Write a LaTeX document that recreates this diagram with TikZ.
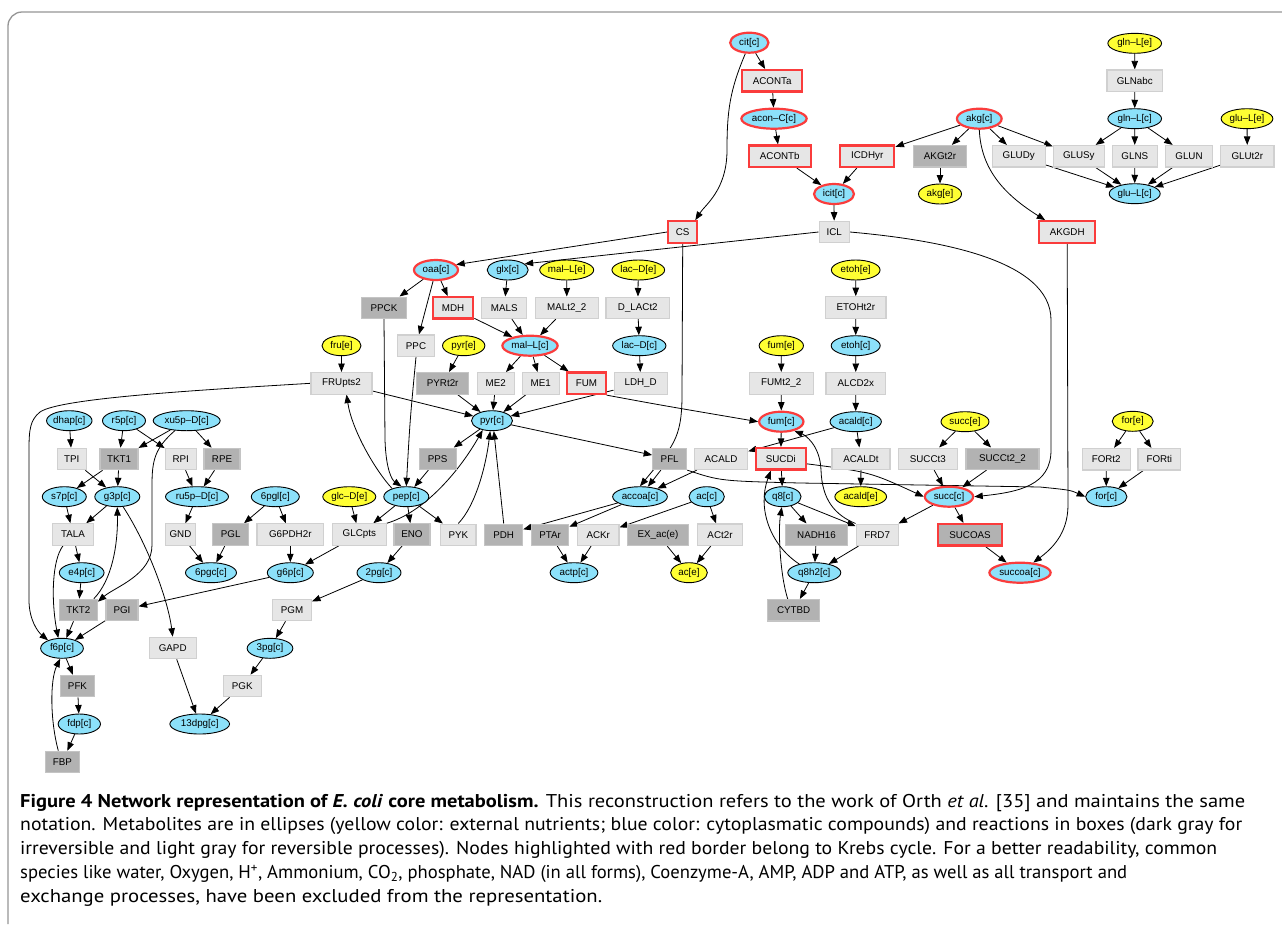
\documentclass[tikz,border=0pt]{standalone}
\usepackage{fontspec}
\usepackage{graphicx}
\setmainfont{Liberation Sans}
\newfontfamily\capfont{PT Sans}
\usetikzlibrary{shapes.geometric,arrows.meta}
\pgfdeclarelayer{bg}
\pgfdeclarelayer{edges}
\pgfsetlayers{bg,edges,main}
\definecolor{metblue}{RGB}{140,225,250}
\definecolor{extyellow}{RGB}{255,255,51}
\definecolor{krebsred}{RGB}{250,60,60}
\definecolor{lfill}{RGB}{230,230,230}
\definecolor{lbord}{RGB}{208,208,208}
\definecolor{dfill}{RGB}{178,178,178}
\definecolor{dbord}{RGB}{196,196,196}
\definecolor{framegray}{RGB}{150,150,150}
\newsavebox\capbox
\newcommand\fitline[2]{\sbox\capbox{#2}\resizebox{#1}{\ht\capbox}{\usebox\capbox}}
\tikzset{
 nodefont/.style={font=\fontsize{9.8}{11}\selectfont},
 met/.style={ellipse, draw=black, line width=0.9pt, fill=metblue, minimum height=20pt, inner sep=0pt, nodefont},
 ext/.style={met, fill=extyellow},
 lrx/.style={rectangle, draw=lbord, line width=1.1pt, fill=lfill, minimum height=21.5pt, inner sep=0pt, nodefont},
 drx/.style={lrx, draw=dbord, fill=dfill},
 kr/.style={draw=krebsred, line width=2.2pt},
 mw/.style={minimum width=#1pt},
 arr/.style={-{Triangle[length=8.5pt,width=6.5pt]}, line width=0.8pt},
 capline/.style={anchor=base west, inner sep=0pt, font=\capfont\fontsize{18.5}{22}\selectfont},
}
\begin{document}
\begin{tikzpicture}[x=1pt,y=-1pt]
\useasboundingbox (0,0) rectangle (1282,924);
\begin{pgfonlayer}{bg}
\fill[white] (0,0) rectangle (1282,924);
\end{pgfonlayer}
\draw[framegray, line width=1.3pt, rounded corners=14pt] (8,924) -- (8,12) -- (1282,12);
% ---------- metabolites ----------
\node[met,kr,mw=38.3] (citc) at (749.3,42.7) {cit[c]};
\node[met,kr,mw=65.3] (aconCc) at (774,118.7) {acon–C[c]};
\node[met,kr,mw=44.7] (akgc) at (979.3,118.7) {akg[c]};
\node[met,kr,mw=40] (icitc) at (834,194) {icit[c]};
\node[ext,mw=43] (akge) at (940,194) {akg[e]};
\node[ext,mw=53.7] (glnLe) at (1134.7,43.3) {gln–L[e]};
\node[met,mw=53.7] (glnLc) at (1134.7,118.7) {gln–L[c]};
\node[ext,mw=51.7] (gluLe) at (1247,118.7) {glu–L[e]};
\node[met,mw=51] (gluLc) at (1134.7,193.7) {glu–L[c]};
\node[met,kr,mw=44] (oaac) at (436,270) {oaa[c]};
\node[met,mw=41] (glxc) at (507.7,270) {glx[c]};
\node[ext,mw=54] (malLe) at (566.7,270) {mal–L[e]};
\node[ext,mw=52.7] (lacDe) at (638.3,270) {lac–D[e]};
\node[ext,mw=48.7] (etohe) at (855.7,270) {etoh[e]};
\node[ext,mw=39] (frue) at (341.5,345.7) {fru[e]};
\node[ext,mw=42.3] (pyre) at (463.7,345.7) {pyr[e]};
\node[met,kr,mw=55.3] (malLc) at (530,345.7) {mal–L[c]};
\node[met,mw=53.3] (lacDc) at (639.3,345.7) {lac–D[c]};
\node[ext,mw=44.3] (fume) at (781.3,345.7) {fum[e]};
\node[met,mw=49] (etohc) at (855.7,345.7) {etoh[c]};
\node[met,mw=42] (dhapc) at (69.3,420.7) {dhap[c]};
\node[met,mw=43] (r5pc) at (124,420.7) {r5p[c]};
\node[met,mw=67] (xu5pDc) at (186.7,420.7) {xu5p–D[c]};
\node[met,mw=41] (pyrc) at (492,420.7) {pyr[c]};
\node[met,kr,mw=44.3] (fumc) at (781.3,421.7) {fum[c]};
\node[met,mw=51.3] (acaldc) at (855.7,421.7) {acald[c]};
\node[ext,mw=48] (succe) at (965,421.7) {succ[e]};
\node[ext,mw=41] (fore) at (1132.7,421.3) {for[e]};
\node[met,mw=44] (s7pc) at (64.3,496.7) {s7p[c]};
\node[met,mw=45] (g3pc) at (117.3,496.7) {g3p[c]};
\node[met,mw=63] (ru5pDc) at (197,496.7) {ru5p–D[c]};
\node[met,mw=48] (pglc) at (275.3,496.7) {6pgl[c]};
\node[ext,mw=53] (glcDe) at (349.3,496.7) {glc–D[e]};
\node[met,mw=45] (pepc) at (406.3,496.7) {pep[c]};
\node[met,mw=54.7] (accoac) at (640,496.7) {accoa[c]};
\node[met,mw=35.3] (acc) at (706.7,496.7) {ac[c]};
\node[met,mw=36.7] (q8c) at (782.7,496.7) {q8[c]};
\node[ext,mw=51.7] (acalde) at (860.7,496.7) {acald[e]};
\node[met,kr,mw=48.3] (succc) at (949,496.7) {succ[c]};
\node[met,mw=41.3] (forc) at (1106.3,496.7) {for[c]};
\node[met,mw=44.7] (e4pc) at (81.7,572.7) {e4p[c]};
\node[met,mw=51] (pgcc) at (211,572.7) {6pgc[c]};
\node[met,mw=46] (g6pc) at (290.3,572.7) {g6p[c]};
\node[met,mw=44] (pgtwoc) at (379,572.7) {2pg[c]};
\node[met,mw=47.7] (actpc) at (574,572.7) {actp[c]};
\node[ext,mw=36.7] (ace) at (689,572.7) {ac[e]};
\node[met,mw=53] (qhc) at (814.3,572.7) {q8h2[c]};
\node[met,kr,mw=61.3] (succoac) at (1020,572.7) {succoa[c]};
\node[met,mw=42.7] (f6pc) at (62,648.3) {f6p[c]};
\node[met,mw=45.7] (pgthreec) at (270,648.3) {3pg[c]};
\node[met,mw=42.3] (fdpc) at (79.3,724) {fdp[c]};
\node[met,mw=59.7] (dpgc) at (199.7,724) {13dpg[c]};
% ---------- reactions ----------
\node[lrx,kr,mw=59.7] (ACONTa) at (772.2,80.8) {ACONTa};
\node[lrx,mw=55.7] (GLNabc) at (1134.8,80.7) {GLNabc};
\node[lrx,kr,mw=61.7] (ACONTb) at (779.8,156.2) {ACONTb};
\node[lrx,kr,mw=54.3] (ICDHyr) at (867.2,156.2) {ICDHyr};
\node[drx,mw=53.4] (AKGtr) at (940,156.2) {AKGt2r};
\node[lrx,mw=52.7] (GLUDy) at (1018.7,156.2) {GLUDy};
\node[lrx,mw=51] (GLUSy) at (1078.8,156.2) {GLUSy};
\node[lrx,mw=45] (GLNS) at (1134.8,156.2) {GLNS};
\node[lrx,mw=46.6] (GLUN) at (1189,156.2) {GLUN};
\node[lrx,mw=53.3] (GLUtr) at (1247.3,156.2) {GLUt2r};
\node[lrx,kr,mw=29] (CS) at (682.7,232) {CS};
\node[lrx,mw=30.3] (ICL) at (834.2,232) {ICL};
\node[lrx,kr,mw=55.7] (AKGDH) at (1067.2,232) {AKGDH};
\node[drx,mw=45.4] (PPCK) at (384,307.8) {PPCK};
\node[lrx,kr,mw=40.6] (MDH) at (453,307.8) {MDH};
\node[lrx,mw=45] (MALS) at (504.2,307.8) {MALS};
\node[lrx,mw=63] (MALt) at (566.8,307.8) {MALt2\_2};
\node[lrx,mw=63.7] (DLACt) at (637.8,307.8) {D\_LACt2};
\node[lrx,mw=60.3] (ETOHt) at (855.8,307.5) {ETOHt2r};
\node[lrx,mw=37.4] (PPC) at (416,345.7) {PPC};
\node[lrx,mw=61] (FRUpts) at (341.5,383.3) {FRUpts2};
\node[drx,mw=52] (PYRt) at (442.7,383.3) {PYRt2r};
\node[lrx,mw=36.7] (MEtwo) at (495.7,383.3) {ME2};
\node[lrx,mw=37] (MEone) at (540.8,383.3) {ME1};
\node[lrx,kr,mw=38.3] (FUM) at (586.5,383.3) {FUM};
\node[lrx,mw=53.3] (LDHD) at (640.7,383.3) {LDH\_D};
\node[lrx,mw=63.7] (FUMt) at (781.2,383.3) {FUMt2\_2};
\node[lrx,mw=59.7] (ALCD) at (855.8,383.3) {ALCD2x};
\node[lrx,mw=29] (TPI) at (71.7,459) {TPI};
\node[drx,mw=38] (TKTone) at (119,459) {TKT1};
\node[lrx,mw=31] (RPI) at (180.7,459) {RPI};
\node[drx,mw=36] (RPE) at (222,459) {RPE};
\node[drx,mw=36.7] (PPS) at (437.7,458.8) {PPS};
\node[drx,mw=34] (PFL) at (669.7,458.8) {PFL};
\node[lrx,mw=53.4] (ACALD) at (721,458.8) {ACALD};
\node[lrx,kr,mw=49.7] (SUCDi) at (780.8,458.8) {SUCDi};
\node[lrx,mw=58] (ACALDt) at (861,458.8) {ACALDt};
\node[lrx,mw=59] (SUCCtthree) at (927.8,458.8) {SUCCt3};
\node[drx,mw=73] (SUCCttwo) at (1002.5,458.8) {SUCCt2\_2};
\node[lrx,mw=47.7] (FORttwo) at (1106.2,459.2) {FORt2};
\node[lrx,mw=42.7] (FORti) at (1159.3,459.2) {FORti};
\node[lrx,mw=40.7] (TALA) at (73,534.5) {TALA};
\node[lrx,mw=30] (GND) at (180.5,534.5) {GND};
\node[drx,mw=36] (PGL) at (230.7,534.5) {PGL};
\node[lrx,mw=66.7] (GPDH) at (290.3,534.5) {G6PDH2r};
\node[lrx,mw=54] (GLCpts) at (359.3,534.5) {GLCpts};
\node[drx,mw=36] (ENO) at (412,534.5) {ENO};
\node[lrx,mw=35.3] (PYK) at (458.3,534.8) {PYK};
\node[drx,mw=38] (PDH) at (503.7,534.8) {PDH};
\node[drx,mw=37] (PTAr) at (550.2,534.8) {PTAr};
\node[lrx,mw=41.3] (ACKr) at (598.3,534.8) {ACKr};
\node[drx,mw=61.4] (EXac) at (658,534.8) {EX\_ac(e)};
\node[lrx,mw=44.6] (ACtr) at (720,534.7) {ACt2r};
\node[drx,mw=61.6] (NADH) at (816.5,534.8) {NADH16};
\node[lrx,mw=42.3] (FRD) at (877.2,534.8) {FRD7};
\node[drx,kr,mw=64.6] (SUCOAS) at (970,534.8) {SUCOAS};
\node[drx,mw=38] (TKTtwo) at (78.3,610) {TKT2};
\node[drx,mw=32] (PGI) at (122,610) {PGI};
\node[lrx,mw=39] (PGM) at (292,610) {PGM};
\node[drx,mw=52] (CYTBD) at (793.7,610.2) {CYTBD};
\node[lrx,mw=46.7] (GAPD) at (172.7,648) {GAPD};
\node[drx,mw=34] (PFK) at (77.5,686) {PFK};
\node[lrx,mw=37.7] (PGK) at (242.2,686) {PGK};
\node[drx,mw=34] (FBP) at (62.3,762) {FBP};
% ---------- edges ----------
\begin{pgfonlayer}{edges}
\draw[arr] (citc) -- (ACONTa);
\draw[arr] (citc.250) .. controls (730,90) and (727,110) .. (727,150) .. controls (727,190) and (705,205) .. ([xshift=-3pt]CS.north east);
\draw[arr] (ACONTa) -- (aconCc);
\draw[arr] (aconCc) -- (ACONTb);
\draw[arr] (ACONTb) -- (icitc);
\draw[arr] (ICDHyr) -- (icitc);
\draw[arr] (akgc) -- (ICDHyr);
\draw[arr] (akgc) -- (AKGtr);
\draw[arr] (AKGtr) -- (akge);
\draw[arr] (akgc) -- (GLUDy);
\draw[arr] (akgc) -- (GLUSy);
\draw[arr] (akgc.south) .. controls (981,170) and (1005,195) .. ([xshift=-22pt]AKGDH.north);
\draw[arr] (glnLe) -- (GLNabc);
\draw[arr] (GLNabc) -- (glnLc);
\draw[arr] (glnLc) -- (GLUSy);
\draw[arr] (glnLc) -- (GLNS);
\draw[arr] (glnLc) -- (GLUN);
\draw[arr] (gluLe) -- (GLUtr);
\draw[arr] (GLUDy) -- (gluLc);
\draw[arr] (GLUSy) -- (gluLc);
\draw[arr] (GLNS) -- (gluLc);
\draw[arr] (GLUN) -- (gluLc);
\draw[arr] (GLUtr) -- (gluLc);
\draw[arr] (icitc) -- (ICL);
\draw[arr] (ICL.west) -- (glxc.20);
\draw[arr] (ICL.east) .. controls (940,240) and (1051,260) .. (1051,320) -- (1051,450) .. controls (1051,485) and (1020,492) .. (succc.east);
\draw[arr] (CS.west) -- (oaac.15);
\draw[arr] (CS.south) -- (682,395) .. controls (682,440) and (672,447) .. (accoac.north);
\draw[arr] (AKGDH.south) -- (1068,505) .. controls (1068,535) and (1050,550) .. (succoac);
\draw[arr] (oaac) -- (PPCK);
\draw[arr] (oaac) -- (MDH);
\draw[arr] (oaac) -- (PPC);
\draw[arr] (MDH) -- (malLc);
\draw[arr] (glxc) -- (MALS);
\draw[arr] (MALS) -- (malLc);
\draw[arr] (malLe) -- (MALt);
\draw[arr] (MALt) -- (malLc);
\draw[arr] (lacDe) -- (DLACt);
\draw[arr] (DLACt) -- (lacDc);
\draw[arr] (lacDc) -- (LDHD);
\draw[arr] (LDHD) -- (pyrc);
\draw[arr] (malLc) -- (MEtwo);
\draw[arr] (malLc) -- (MEone);
\draw[arr] (malLc) -- (FUM);
\draw[arr] (MEtwo) -- (pyrc);
\draw[arr] (MEone) -- (pyrc);
\draw[arr] (pyre) -- (PYRt);
\draw[arr] (PYRt) -- (pyrc);
\draw[arr] (frue) -- (FRUpts);
\draw[arr] (FRUpts) -- (pyrc);
\draw[arr] (FUM.south east) .. controls (660,405) .. (fumc.west);
\draw[arr] (PPCK.south) -- (385,440) .. controls (386,470) and (392,480) .. (pepc.115);
\draw[arr] (PPC.south) .. controls (410,420) .. (pepc.north);
\draw[arr] (pyrc) -- (PPS);
\draw[arr] (PPS) -- (pepc);
\draw[arr] (pepc.150) .. controls (375,470) and (352,430) .. ([xshift=5pt]FRUpts.south);
\draw[arr] (FRUpts.west) .. controls (200,390) and (60,398) .. (40,412) .. controls (30,420) and (29,430) .. (29,450) -- (29,600) .. controls (29,620) and (38,632) .. (f6pc.150);
\draw[arr] (pepc) -- (GLCpts);
\draw[arr] (pepc) -- (ENO);
\draw[arr] (pepc) -- (PYK);
\draw[arr] (glcDe) -- (GLCpts);
\draw[arr] (GLCpts) -- (g6pc);
\draw[arr] (GLCpts.north east) .. controls (425,512) and (460,470) .. (pyrc.-135);
\draw[arr] (PYK.north) .. controls (476,505) and (486,465) .. (pyrc.-100);
\draw[arr] (PDH.north) -- (pyrc.-80);
\draw[arr] (pyrc) -- (PFL);
\draw[arr] (PFL) -- (accoac);
\draw[arr] (PFL.south east) .. controls (720,481) .. (800,483) -- (1040,487) .. controls (1070,490) .. (forc.west);
\draw[arr] (ACALD) -- (accoac);
\draw[arr] (acaldc) -- (ACALD);
\draw[arr] (accoac) -- (PDH);
\draw[arr] (accoac) -- (PTAr);
\draw[arr] (acc) -- (ACKr);
\draw[arr] (acc) -- (ACtr);
\draw[arr] (PTAr) -- (actpc);
\draw[arr] (ACKr) -- (actpc);
\draw[arr] (EXac) -- (ace);
\draw[arr] (ACtr) -- (ace);
\draw[arr] (etohe) -- (ETOHt);
\draw[arr] (ETOHt) -- (etohc);
\draw[arr] (etohc) -- (ALCD);
\draw[arr] (ALCD) -- (acaldc);
\draw[arr] (acaldc) -- (ACALDt);
\draw[arr] (ACALDt) -- (acalde);
\draw[arr] (fume) -- (FUMt);
\draw[arr] (FUMt) -- (fumc);
\draw[arr] (fumc) -- (SUCDi);
\draw[arr] (SUCDi) -- (q8c);
\draw[arr] ([yshift=-5pt]SUCDi.east) .. controls (870,472) .. (succc.west);
\draw[arr] (FRD.north west) .. controls (835,515) and (822,500) .. (821,470) .. controls (820,445) and (805,435) .. (fumc.-35);
\draw[arr] (q8c) -- (FRD);
\draw[arr] (q8c) -- (NADH);
\draw[arr] (NADH) -- (qhc);
\draw[arr] (FRD) -- (qhc);
\draw[arr] (qhc) -- (CYTBD);
\draw[arr] ([xshift=-6pt]CYTBD.north) .. controls (780,575) and (778,530) .. (q8c.-95);
\draw[arr] (qhc.150) .. controls (770,545) and (757,508) .. ([xshift=-10pt]SUCDi.south);
\draw[arr] (succc) -- (FRD);
\draw[arr] (succc) -- (SUCOAS);
\draw[arr] (SUCOAS) -- (succoac);
\draw[arr] (succe) -- (SUCCtthree);
\draw[arr] (succe) -- (SUCCttwo);
\draw[arr] (SUCCtthree) -- (succc);
\draw[arr] (SUCCttwo) -- (succc);
\draw[arr] (fore) -- (FORttwo);
\draw[arr] (fore) -- (FORti);
\draw[arr] (FORttwo) -- (forc);
\draw[arr] (FORti) -- (forc);
\draw[arr] (dhapc) -- (TPI);
\draw[arr] (TPI) -- (g3pc);
\draw[arr] (r5pc) -- (TKTone);
\draw[arr] (xu5pDc) -- (TKTone);
\draw[arr] (r5pc) -- (RPI);
\draw[arr] (xu5pDc) -- (RPE);
\draw[arr] (TKTone) -- (s7pc);
\draw[arr] (TKTone) -- (g3pc);
\draw[arr] (RPI) -- (ru5pDc);
\draw[arr] (RPE) -- (ru5pDc);
\draw[arr] (ru5pDc) -- (GND);
\draw[arr] (GND) -- (pgcc);
\draw[arr] (PGL) -- (pgcc);
\draw[arr] (pglc) -- (PGL);
\draw[arr] (pglc) -- (GPDH);
\draw[arr] (GPDH) -- (g6pc);
\draw[arr] (s7pc) -- (TALA);
\draw[arr] (g3pc) -- (TALA);
\draw[arr] (TALA) -- (e4pc);
\draw[arr] (e4pc) -- (TKTtwo);
\draw[arr] (xu5pDc.-140) .. controls (155,448) and (152,460) .. (152,485) -- (152,545) .. controls (152,575) and (115,587) .. ([yshift=-3pt]TKTtwo.north east);
\draw[arr] ([xshift=-4pt]TKTtwo.north east) .. controls (112,580) and (118,545) .. (g3pc.south);
\draw[arr] (g3pc.-60) .. controls (148,545) and (168,600) .. (GAPD.north);
\draw[arr] ([xshift=-10pt]TALA.south) .. controls (52,560) and (51,600) .. (f6pc.110);
\draw[arr] (TKTtwo) -- (f6pc);
\draw[arr] (g6pc) -- (PGI);
\draw[arr] (PGI) -- (f6pc);
\draw[arr] (f6pc) -- (PFK);
\draw[arr] (PFK) -- (fdpc);
\draw[arr] (fdpc) -- (FBP);
\draw[arr] ([xshift=-4pt]FBP.north) .. controls (50,720) and (50,680) .. (f6pc.-100);
\draw[arr] (ENO) -- (pgtwoc);
\draw[arr] (pgtwoc) -- (PGM);
\draw[arr] (PGM) -- (pgthreec);
\draw[arr] (pgthreec) -- (PGK);
\draw[arr] (PGK) -- (dpgc);
\draw[arr] (GAPD) -- (dpgc);
\end{pgfonlayer}
% ---------- caption ----------
\node[capline] (capA) at (20,807) {\fitline{1225pt}{\textbf{Figure 4 Network representation of \textit{E. coli} core metabolism.} This reconstruction refers to the work of Orth \textit{et al.} [35] and maintains the same}};
\node[capline] (capB) at (20,830.8) {\fitline{1222pt}{notation. Metabolites are in ellipses (yellow color: external nutrients; blue color: cytoplasmatic compounds) and reactions in boxes (dark gray for}};
\node[capline] (capC) at (20,854.6) {\fitline{1197pt}{irreversible and light gray for reversible processes). Nodes highlighted with red border belong to Krebs cycle. For a better readability, common}};
\node[capline] (capD) at (20,878.4) {\fitline{1107pt}{species like water, Oxygen, H\textsuperscript{+}, Ammonium, CO\textsubscript{2}, phosphate, NAD (in all forms), Coenzyme-A, AMP, ADP and ATP, as well as all transport and}};
\node[capline] (capE) at (20,902.2) {\fitline{582pt}{exchange processes, have been excluded from the representation.}};
\end{tikzpicture}
\end{document}
